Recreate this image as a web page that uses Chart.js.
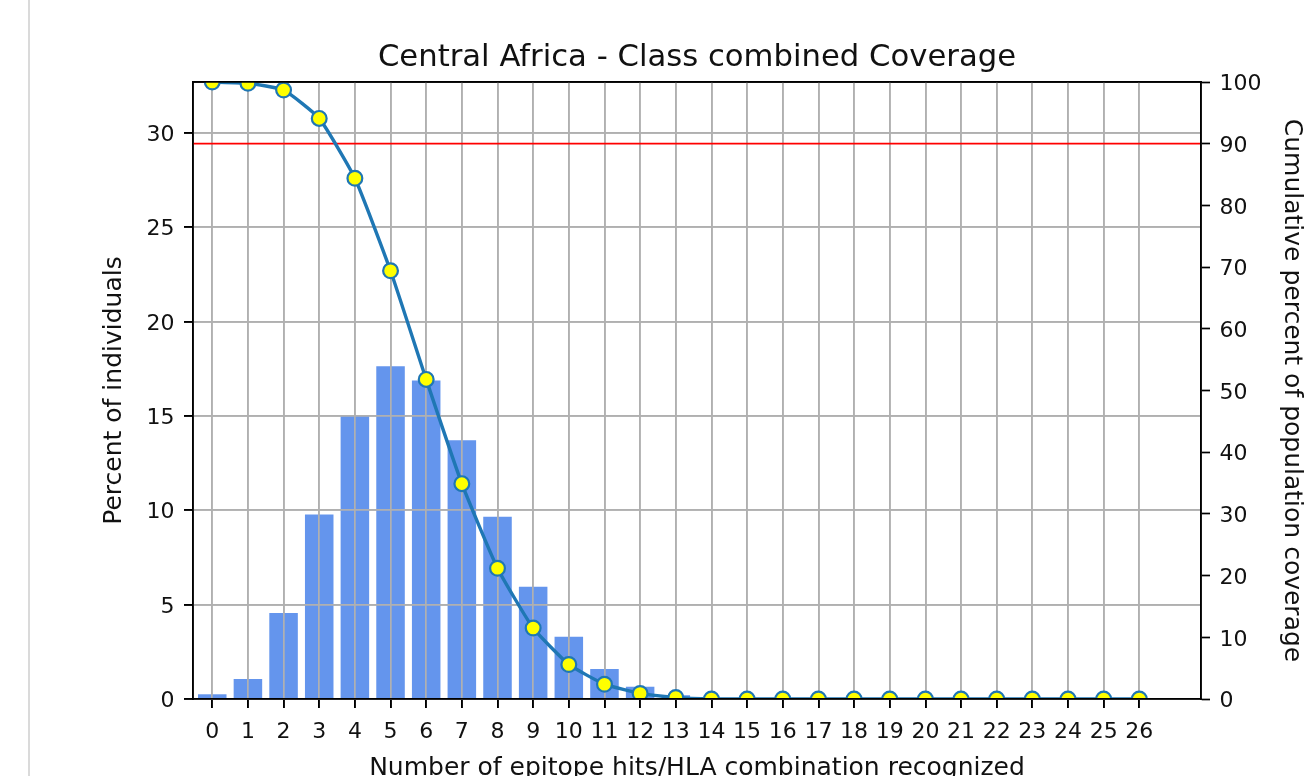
<!DOCTYPE html>
<html><head><meta charset="utf-8">
<script src="https://cdn.jsdelivr.net/npm/chart.js@4.4.1/dist/chart.umd.min.js"></script>
<style>
html,body{margin:0;padding:0;background:#fff;}
#wrap{position:relative;width:1315px;height:776px;overflow:hidden;background:#fff;}
#rule{position:absolute;left:28px;top:0;width:2px;height:776px;background:#dadada;}
canvas{position:absolute;left:0;top:0;}
</style></head><body>
<div id="wrap"><div id="rule"></div><canvas id="c" width="1315" height="776"></canvas></div>
<script>
// ---- data ----
const hits = [0,1,2,3,4,5,6,7,8,9,10,11,12,13,14,15,16,17,18,19,20,21,22,23,24,25,26];
const percentIndividuals = [0.25,1.06,4.56,9.77,15.0,17.63,16.87,13.71,9.66,5.95,3.30,1.59,0.65,0.2,0,0,0,0,0,0,0,0,0,0,0,0,0];
const cumulativeCoverage = [100,99.8,98.7,94.1,84.4,69.4,51.8,34.9,21.2,11.5,5.6,2.4,0.9,0.25,0,0,0,0,0,0,0,0,0,0,0,0,0];
const coverageThreshold = 90;
const leftTicks = [0,5,10,15,20,25,30];
const rightTicks = [0,10,20,30,40,50,60,70,80,90,100];
const titleText = 'Central Africa - Class combined Coverage';
const xLabel = 'Number of epitope hits/HLA combination recognized';
const yLabel = 'Percent of individuals';
const y2Label = 'Cumulative percent of population coverage';

// ---- axis ranges ----
const X_MIN = -0.54, X_MAX = 27.73;
const Y_MAX = 32.69, Y2_MAX = 100;

const FONT = 'DejaVu Sans';
const GRID = '#b0b0b0';
const LW = 1.7;
const TXT = '#111';

const barData = hits.map((h, i) => ({x: h, y: percentIndividuals[i]}));
const cumData = hits.map((h, i) => ({x: h, y: cumulativeCoverage[i]}));
const thrData = [{x: X_MIN, y: coverageThreshold}, {x: X_MAX, y: coverageThreshold}];

const gridOver = {
  id: 'gridOver',
  afterDatasetDraw(chart, args) {
    if (args.index === 0) {
      chart.scales.x.drawGrid(chart.chartArea);
      chart.scales.y.drawGrid(chart.chartArea);
    }
  },
  afterDatasetsDraw(chart) {
    ['x','y','y1','xTop'].forEach(id => chart.scales[id].drawBorder());
  }
};

new Chart(document.getElementById('c'), {
  type: 'bar',
  data: {
    datasets: [
      {
        type: 'bar', data: barData, xAxisID: 'x', yAxisID: 'y',
        backgroundColor: '#6495ed', borderWidth: 0,
        barPercentage: 0.8, categoryPercentage: 1.0, order: 3
      },
      {
        type: 'line', data: thrData, xAxisID: 'x', yAxisID: 'y1',
        borderColor: '#ff0000', borderWidth: 1.8, pointRadius: 0, clip: 0, order: 2
      },
      {
        type: 'line', data: cumData, xAxisID: 'x', yAxisID: 'y1',
        borderColor: '#1f77b4', borderWidth: 3.4,
        pointRadius: 7.4, pointBackgroundColor: '#ffff00',
        pointBorderColor: '#1f77b4', pointBorderWidth: 2.2,
        tension: 0.15, clip: 0, order: 1
      }
    ]
  },
  options: {
    responsive: false,
    animation: false,
    devicePixelRatio: 1,
    layout: {padding: {top: 82, left: 0, right: 0, bottom: 0}},
    plugins: {
      legend: {display: false},
      tooltip: {enabled: false},
      title: {display: false}
    },
    scales: {
      x: {
        type: 'linear', position: 'bottom', min: X_MIN, max: X_MAX,
        offset: false,
        afterBuildTicks: s => { s.ticks = hits.map(v => ({value: v})); },
        afterFit: s => { s.height = 77; },
        ticks: {autoSkip: false, maxRotation: 0, color: TXT, padding: 11,
                font: {family: FONT, size: 22}, callback: v => String(v)},
        grid: {offset: false, color: GRID, lineWidth: LW, tickLength: 9, tickColor: '#000', tickWidth: LW},
        border: {display: true, color: '#000', width: LW},
        title: {display: true, text: xLabel, color: TXT,
                font: {family: FONT, size: 25}, padding: {top: 0, bottom: -7}}
      },
      xTop: {
        type: 'linear', position: 'top', min: X_MIN, max: X_MAX,
        offset: false,
        afterBuildTicks: s => { s.ticks = []; },
        afterFit: s => { s.height = 0; },
        ticks: {display: false},
        grid: {display: false},
        border: {display: true, color: '#000', width: LW},
        title: {display: true, text: titleText, color: TXT,
                font: {family: FONT, size: 30.7}, padding: {top: -41.9, bottom: 0}}
      },
      y: {
        type: 'linear', position: 'left', min: 0, max: Y_MAX,
        afterBuildTicks: s => { s.ticks = leftTicks.map(v => ({value: v})); },
        afterFit: s => { s.width = 193; },
        ticks: {color: TXT, padding: 9.5, labelOffset: 2.5, font: {family: FONT, size: 22}},
        grid: {color: GRID, lineWidth: LW, tickLength: 9, tickColor: '#000', tickWidth: LW},
        border: {display: true, color: '#000', width: LW},
        title: {display: true, text: yLabel, color: TXT,
                font: {family: FONT, size: 25}, padding: {top: 99.3, bottom: 0}}
      },
      y1: {
        type: 'linear', position: 'right', min: 0, max: Y2_MAX,
        afterBuildTicks: s => { s.ticks = rightTicks.map(v => ({value: v})); },
        afterFit: s => { s.width = 114; },
        ticks: {color: TXT, padding: 9.5, labelOffset: 2.5, font: {family: FONT, size: 22}},
        grid: {drawOnChartArea: false, tickLength: 9, tickColor: '#000', tickWidth: LW},
        border: {display: true, color: '#000', width: LW},
        title: {display: true, text: y2Label, color: TXT,
                font: {family: FONT, size: 25}, padding: {top: 8.4, bottom: 0}}
      }
    }
  },
  plugins: [gridOver]
});
</script>
</body></html>
